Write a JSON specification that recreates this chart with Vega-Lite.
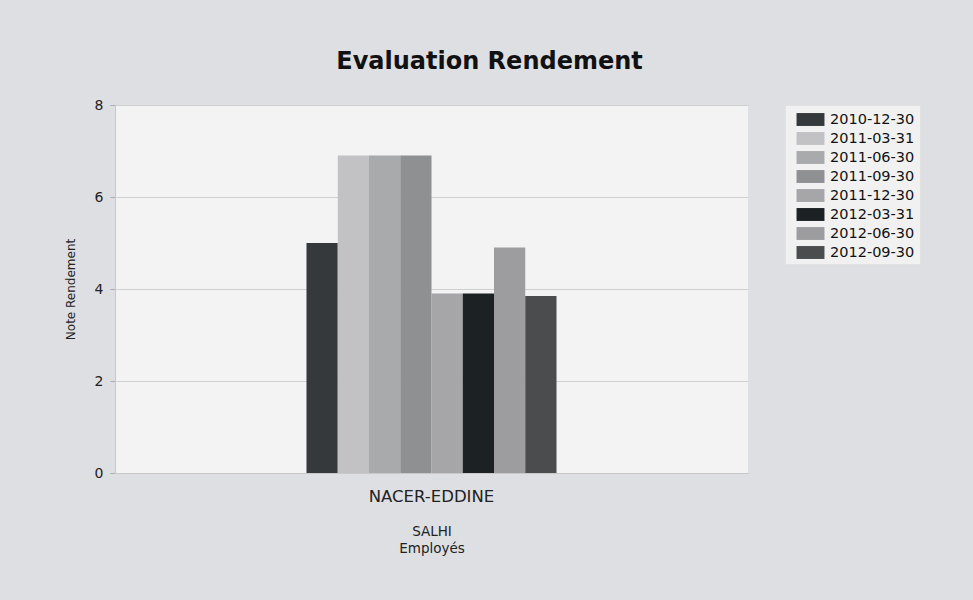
{
  "$schema": "https://vega.github.io/schema/vega-lite/v6.json",
  "width": 633,
  "height": 368,
  "autosize": {"type": "none"},
  "padding": {"left": 115, "top": 105, "right": 225, "bottom": 127},
  "background": "#dedfe2",
  "title": {
    "text": "Evaluation Rendement",
    "font": "DejaVu Sans",
    "fontSize": 24,
    "fontWeight": "bold",
    "color": "#111111",
    "anchor": "middle",
    "dx": 58,
    "offset": 24
  },
  "data": {
    "values": [
      {"employe": "NACER-EDDINE", "date": "2010-12-30", "note": 5},
      {"employe": "NACER-EDDINE", "date": "2011-03-31", "note": 6.9},
      {"employe": "NACER-EDDINE", "date": "2011-06-30", "note": 6.9},
      {"employe": "NACER-EDDINE", "date": "2011-09-30", "note": 6.9},
      {"employe": "NACER-EDDINE", "date": "2011-12-30", "note": 3.9},
      {"employe": "NACER-EDDINE", "date": "2012-03-31", "note": 3.9},
      {"employe": "NACER-EDDINE", "date": "2012-06-30", "note": 4.9},
      {"employe": "NACER-EDDINE", "date": "2012-09-30", "note": 3.85}
    ]
  },
  "mark": {"type": "bar"},
  "encoding": {
    "x": {
      "field": "employe",
      "type": "nominal",
      "scale": {"paddingInner": 0, "paddingOuter": 0.766},
      "axis": {
        "title": ["SALHI", "Employés"],
        "titleFont": "DejaVu Sans",
        "titleFontSize": 13.5,
        "titleFontWeight": "normal",
        "titleColor": "#222222",
        "titlePadding": 20,
        "titleLineHeight": 17,
        "labelAngle": 0,
        "labelFont": "DejaVu Sans",
        "labelFontSize": 16.5,
        "labelColor": "#222222",
        "labelPadding": 15,
        "ticks": false,
        "domainColor": "#c8c8c8"
      }
    },
    "xOffset": {
      "field": "date",
      "type": "nominal",
      "scale": {"paddingInner": 0, "paddingOuter": 0}
    },
    "y": {
      "field": "note",
      "type": "quantitative",
      "scale": {"domain": [0, 8], "nice": false},
      "axis": {
        "title": "Note Rendement",
        "titleFont": "DejaVu Sans",
        "titleFontSize": 12,
        "titleFontWeight": "normal",
        "titleColor": "#222222",
        "titlePadding": 17,
        "values": [0, 2, 4, 6, 8],
        "labelFont": "DejaVu Sans",
        "labelFontSize": 14,
        "labelColor": "#222222",
        "labelPadding": 7,
        "tickColor": "#b0b0b0",
        "tickSize": 5,
        "domainColor": "#c8c8c8",
        "gridColor": "#d0d0d0"
      }
    },
    "color": {
      "field": "date",
      "type": "nominal",
      "scale": {
        "domain": ["2010-12-30", "2011-03-31", "2011-06-30", "2011-09-30", "2011-12-30", "2012-03-31", "2012-06-30", "2012-09-30"],
        "range": ["#35393b", "#c2c2c4", "#a9aaac", "#8f9092", "#a6a6a8", "#1c2224", "#9d9d9f", "#4a4c4e"]
      },
      "legend": {
        "title": null,
        "orient": "none",
        "legendX": 670,
        "legendY": 0,
        "padding": 5,
        "fillColor": "#f1f1f2",
        "strokeColor": "#e2e2e2",
        "symbolType": "M-1.47,-0.68H1.47V0.68H-1.47Z",
        "symbolSize": 361,
        "symbolOffset": 11,
        "symbolStrokeWidth": 0,
        "symbolOpacity": 1,
        "rowPadding": 3,
        "labelFont": "DejaVu Sans",
        "labelFontSize": 14.5,
        "labelColor": "#111111",
        "labelOffset": 10
      }
    }
  },
  "config": {
    "view": {"fill": "#f3f3f4", "stroke": null}
  }
}
